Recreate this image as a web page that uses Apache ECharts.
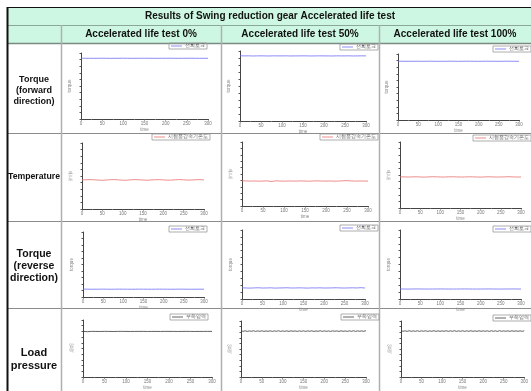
<!DOCTYPE html>
<html>
<head>
<meta charset="utf-8">
<script src="https://cdn.jsdelivr.net/npm/echarts@6/dist/echarts.min.js"></script>
<style>
  html, body { margin: 0; padding: 0; background: #fff; }
  #chart { width: 531px; height: 391px; }
</style>
</head>
<body>
<div id="chart"></div>
<script>
const TITLE = "Results of Swing reduction gear Accelerated life test";
const COLUMNS = ["Accelerated life test 0%", "Accelerated life test 50%", "Accelerated life test 100%"];
const ROWS = ["Torque\n(forward\ndirection)", "Temperature", "Torque\n(reverse\ndirection)", "Load\npressure"];
const LEGEND_NAMES = ["선회토크", "시험품감속기온도", "선회토크", "부하압력"];
const Y_NAMES = ["torque", "온\n도", "torque", "압\n력"];
const X_NAME = "time";

// sample times (s)
const TIME = [0, 10, 20, 30, 40, 50, 60, 70, 80, 90, 100, 110, 120, 130, 140, 150,
  160, 170, 180, 190, 200, 210, 220, 230, 240, 250, 260, 270, 280, 290, 300];
const TIME_FINE = [0, 5, 10, 15, 20, 25, 30, 35, 40, 45, 50, 55, 60, 65, 70, 75, 80, 85, 90, 95,
  100, 105, 110, 115, 120, 125, 130, 135, 140, 145, 150, 155, 160, 165, 170, 175, 180, 185, 190, 195,
  200, 205, 210, 215, 220, 225, 230, 235, 240, 245, 250, 255, 260, 265, 270, 275, 280, 285, 290, 295, 300];

// values in % of the (unlabelled) y range
const torqueFwd0 = [92.1, 92.0, 92.0, 91.9, 92.0, 92.1, 92.0, 91.9, 92.0, 92.0, 92.1, 92.0, 91.9, 92.0, 92.0, 92.1,
  92.0, 92.0, 91.9, 92.0, 92.0, 92.1, 92.0, 91.9, 92.0, 92.0, 92.1, 92.0, 91.9, 92.0, 92.0];
const torqueFwd50 = [93.2, 93.0, 93.1, 92.9, 93.0, 93.1, 93.0, 92.9, 93.1, 93.0, 93.0, 93.1, 92.9, 93.0, 93.0, 93.1,
  93.0, 92.9, 93.0, 93.1, 93.0, 93.0, 92.9, 93.1, 93.0, 93.0, 93.1, 92.9, 93.0, 93.1, 93.0];
const torqueFwd100 = [89.0, 89.1, 88.9, 89.0, 89.0, 89.1, 88.9, 89.0, 89.1, 89.0, 88.9, 89.0, 89.0, 89.1, 89.0, 88.9,
  89.0, 89.1, 89.0, 89.0, 88.9, 89.0, 89.1, 89.0, 89.0, 88.9, 89.0, 89.1, 89.0, 89.0, 89.0];

const temp0 = [44.0, 44.3, 44.6, 44.2, 43.8, 43.5, 43.9, 44.4, 44.6, 44.1, 43.7, 43.6, 44.2, 44.5, 44.3, 43.9,
  43.6, 44.0, 44.4, 44.5, 44.1, 43.7, 43.8, 44.3, 44.6, 44.2, 43.8, 43.9, 44.4, 44.5, 44.1];
const temp50 = [39.5, 39.2, 38.9, 39.1, 38.8, 39.0, 39.3, 38.2, 39.4, 39.0, 38.8, 39.1, 39.0, 38.9, 39.2, 39.0,
  38.8, 39.1, 39.3, 39.0, 38.9, 39.1, 38.8, 39.0, 39.3, 39.6, 39.2, 38.9, 39.1, 39.0, 38.8];
const temp100 = [47.0, 47.2, 46.9, 47.1, 47.3, 47.0, 46.8, 47.1, 47.4, 47.2, 47.0, 46.9, 47.2, 47.3, 47.1, 46.9,
  47.0, 47.3, 47.2, 47.0, 46.8, 47.1, 47.3, 47.1, 46.9, 47.0, 47.2, 47.4, 47.1, 46.9, 47.0];

const torqueRev0 = [12.0, 12.1, 11.9, 12.0, 12.0, 12.1, 12.0, 11.9, 12.0, 12.1, 12.0, 12.0, 11.9, 12.0, 12.1, 12.0,
  12.0, 11.9, 12.0, 12.1, 12.0, 12.0, 11.9, 12.0, 12.1, 12.0, 12.0, 11.9, 12.0, 12.0, 12.0];
const torqueRev50 = [16.2, 16.0, 15.8, 16.1, 16.3, 15.9, 16.0, 16.2, 15.8, 16.0, 16.1, 16.3, 15.9, 16.0, 16.2, 16.0,
  15.8, 16.1, 16.0, 16.2, 15.9, 16.0, 16.1, 16.3, 16.0, 15.9, 16.1, 16.2, 16.0, 16.4, 15.9];
const torqueRev100 = [14.5, 14.5, 14.4, 14.5, 14.6, 14.5, 14.5, 14.4, 14.5, 14.5, 14.6, 14.5, 14.5, 14.4, 14.5, 14.5,
  14.6, 14.5, 14.5, 14.4, 14.5, 14.5, 14.6, 14.5, 14.5, 14.4, 14.5, 14.5, 14.6, 14.5, 14.5];

const load0 = [80.0, 79.6, 80.1, 80.0, 79.9, 80.1, 80.0, 79.9, 80.0, 80.1, 80.0, 79.9, 80.0, 80.0, 80.1, 79.9,
  80.0, 80.0, 79.9, 80.1, 80.0, 80.0, 79.9, 80.0, 80.1, 80.0, 79.9, 80.0, 80.0, 80.1, 80.0];
const load50 = [82.4, 81.6, 82.5, 81.5, 82.3, 81.7, 82.6, 81.4, 82.4, 81.6, 82.5, 81.5, 82.3, 81.6, 82.5, 81.4,
  82.4, 81.7, 82.6, 81.5, 82.3, 81.6, 82.4, 81.5, 82.5, 81.6, 82.3, 81.4, 82.4, 81.6, 82.5, 81.5,
  82.4, 81.7, 82.5, 81.4, 82.3, 81.6, 82.6, 81.5, 82.4, 81.6, 82.3, 81.5, 82.5, 81.7, 82.4, 81.4,
  82.5, 81.6, 82.3, 81.5, 82.4, 81.6, 82.6, 81.5, 82.4, 81.7, 82.3, 81.6, 82.8];
const load100 = [82.6, 81.7, 82.5, 81.5, 82.7, 81.6, 82.4, 81.6, 82.6, 81.5, 82.5, 81.7, 82.6, 81.5, 82.4, 81.6,
  82.7, 81.5, 82.5, 81.6, 82.4, 81.7, 82.6, 81.5, 82.5, 81.6, 82.7, 81.5, 82.4, 81.6, 82.6, 81.5,
  82.5, 81.7, 82.6, 81.6, 82.4, 81.5, 82.6, 81.6, 82.5, 81.7, 82.4, 81.5, 82.6, 81.6, 82.5, 81.5,
  82.7, 81.6, 82.4, 81.6, 82.5, 81.5, 82.6, 81.7, 82.4, 81.6, 82.5, 81.5, 82.6];

const SERIES = [
  [torqueFwd0, torqueFwd50, torqueFwd100],
  [temp0, temp50, temp100],
  [torqueRev0, torqueRev50, torqueRev100],
  [load0, load50, load100],
];
const ROW_COLORS = ["#6f6ff2", "#e8706e", "#6f6ff2", "#3a3a3a"];

// plot rectangles per cell: [left, top, right, bottom]
const PLOTS = [
  [[81, 53, 208, 119], [240, 51, 366, 121], [398, 54, 519, 120]],
  [[82, 143, 204, 209], [242, 142, 368, 206], [400, 142, 521, 208]],
  [[83, 232, 204, 297], [242, 230, 365, 299], [400, 230, 521, 299]],
  [[83, 320, 212, 387], [241, 321, 366, 386], [401, 321, 528, 382]],
];
// legend box: [right edge x, top y]
const LEGEND_POS = [
  [[207, 43], [378, 44], [531, 46]],
  [[210, 134], [378, 134], [531, 135]],
  [[207, 226], [378, 225], [531, 226]],
  [[208, 314], [379, 314], [531, 315]],
];

const W = 531, H = 391;
const COL_X = [7, 61, 221, 379, 531];
const ROW_Y = [43, 133, 221, 308, 391];
const HEAD_FILL = "#cdf7e2";
const FONT = '"Liberation Sans", Arial, sans-serif';

const grids = [], xAxes = [], yAxes = [], series = [], legends = [];
SERIES.forEach((row, r) => {
  row.forEach((vals, c) => {
    const [l, t, rt, b] = PLOTS[r][c];
    const idx = grids.length;
    grids.push({ left: l, top: t, width: rt - l, height: b - t, containLabel: false });
    xAxes.push({
      gridIndex: idx, type: "value", min: 0, max: 300, interval: 50,
      name: X_NAME, nameLocation: "middle", nameGap: 6,
      nameTextStyle: { fontSize: 4.5, color: "#888", fontFamily: FONT },
      axisLine: { lineStyle: { color: "#444", width: 1 } },
      axisTick: { length: 1.5, lineStyle: { color: "#555" } },
      minorTick: { show: true, splitNumber: 2, length: 1, lineStyle: { color: "#777" } },
      axisLabel: { fontSize: 4.5, color: "#777", margin: 2, fontFamily: FONT },
      splitLine: { show: false },
    });
    const rotName = Y_NAMES[r].indexOf("\n") < 0;
    yAxes.push({
      gridIndex: idx, type: "value", min: 0, max: 100, interval: 10,
      name: Y_NAMES[r], nameLocation: "middle", nameRotate: rotName ? 90 : 0,
      nameGap: rotName ? 9 : 9,
      nameTextStyle: { fontSize: 4.5, color: "#888", fontFamily: FONT, lineHeight: 5 },
      axisLine: { show: true, lineStyle: { color: "#444", width: 1 } },
      axisTick: { show: true, length: 1.5, lineStyle: { color: "#555" } },
      axisLabel: { show: false },
      splitLine: { show: false },
    });
    const times = vals.length === TIME.length ? TIME : TIME_FINE;
    series.push({
      name: LEGEND_NAMES[r], type: "line", xAxisIndex: idx, yAxisIndex: idx,
      data: times.map((tm, i) => [tm, vals[i]]),
      showSymbol: false, animation: false,
      lineStyle: { color: ROW_COLORS[r], width: 0.8 },
      itemStyle: { color: ROW_COLORS[r] },
    });
    const [lr, lt] = LEGEND_POS[r][c];
    legends.push({
      data: [LEGEND_NAMES[r]], right: W - lr, top: lt, selectedMode: false,
      icon: "rect", itemWidth: 11, itemHeight: 0.8, itemGap: 2,
      padding: [0.5, 2, 0.5, 2], borderColor: "#999", borderWidth: 0.8,
      textStyle: { fontSize: 4.5, color: "#555", fontFamily: FONT, padding: [0, 0, 0, -2] },
    });
  });
});

const graphic = [];
// header band
graphic.push({ type: "rect", shape: { x: COL_X[0], y: 7, width: W - COL_X[0], height: ROW_Y[0] - 7 },
  style: { fill: HEAD_FILL }, silent: true });
// horizontal rules
graphic.push({ type: "line", shape: { x1: 7, y1: 7.5, x2: W, y2: 7.5 }, style: { stroke: "#111", lineWidth: 1 } });
graphic.push({ type: "line", shape: { x1: 7, y1: 25.5, x2: W, y2: 25.5 }, style: { stroke: "#8aa898", lineWidth: 1 } });
graphic.push({ type: "line", shape: { x1: 7, y1: 43.5, x2: W, y2: 43.5 }, style: { stroke: "#7d8a84", lineWidth: 1.5 } });
ROW_Y.slice(1, 4).forEach((y) => {
  graphic.push({ type: "line", shape: { x1: 7, y1: y + 0.5, x2: W, y2: y + 0.5 }, style: { stroke: "#8c8c8c", lineWidth: 1 } });
});
// vertical rules
COL_X.slice(1, 4).forEach((x) => {
  graphic.push({ type: "line", shape: { x1: x + 0.5, y1: 25, x2: x + 0.5, y2: H }, style: { stroke: "#b0b0b0", lineWidth: 1.5 } });
});
graphic.push({ type: "line", shape: { x1: 7.5, y1: 7, x2: 7.5, y2: H }, style: { stroke: "#111", lineWidth: 2 } });
// header texts
graphic.push({ type: "text", x: 270, y: 16.5, style: { text: TITLE, align: "center", verticalAlign: "middle",
  font: "bold 10px " + FONT, fill: "#111" } });
COLUMNS.forEach((txt, c) => {
  graphic.push({ type: "text", x: (COL_X[c + 1] + COL_X[c + 2]) / 2, y: 34.5,
    style: { text: txt, align: "center", verticalAlign: "middle", font: "bold 10px " + FONT, fill: "#111" } });
});
// row labels
const ROW_FONT = [9, 8.7, 10.5, 11];
const ROW_LH = [11, 12, 12, 13];
const ROW_CY = [91, 177, 266, 359];
ROWS.forEach((txt, r) => {
  graphic.push({ type: "text", x: 34, y: ROW_CY[r],
    style: { text: txt, align: "center", verticalAlign: "middle", fontSize: ROW_FONT[r], fontWeight: "bold",
      fontFamily: FONT, lineHeight: ROW_LH[r], fill: "#111" } });
});

const chart = echarts.init(document.getElementById("chart"), null, { renderer: "canvas" });
chart.setOption({
  backgroundColor: "#fff",
  animation: false,
  grid: grids,
  xAxis: xAxes,
  yAxis: yAxes,
  legend: legends,
  series: series,
  graphic: graphic,
});
</script>
</body>
</html>
